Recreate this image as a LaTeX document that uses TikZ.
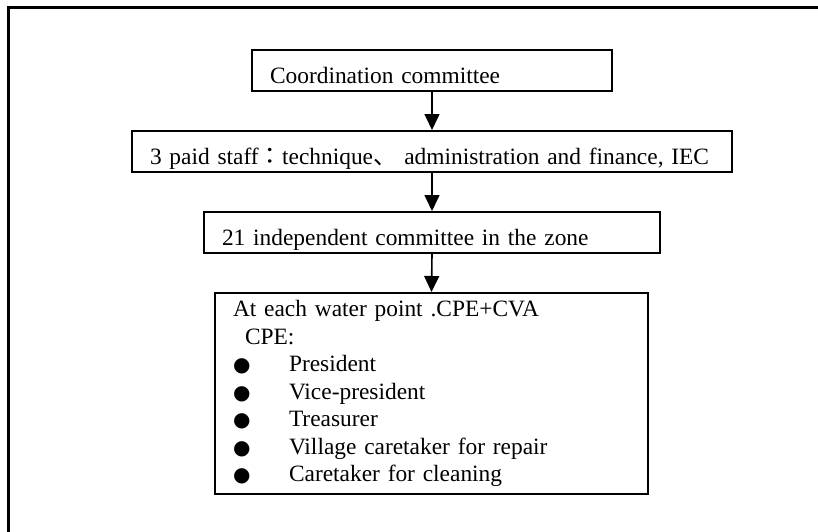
\documentclass[tikz,border=0pt]{standalone}
\usepackage{fontspec}
\setmainfont{Liberation Serif}
\newfontfamily\cjk{Noto Sans CJK JP}
\newfontfamily\bulletfont{DejaVu Sans}
\usetikzlibrary{arrows.meta}
\newcommand\itemdot{\makebox[28pt][l]{\bulletfont\fontsize{10}{13.75}\selectfont ●}}
\begin{document}
\begin{tikzpicture}[x=0.5pt,y=-0.5pt,font=\fontsize{11.7}{13.75}\selectfont,
  panel/.style={draw,line width=1pt,anchor=north west,align=left,inner xsep=9pt,inner ysep=0pt},
  box/.style={panel,minimum height=20.5pt,text height=12.5pt,text depth=0pt},
  link/.style={line width=0.8pt,-{Triangle[length=8pt,width=7.5pt]}}]
  \useasboundingbox (0,0) rectangle (818,531);
  \clip (0,0) rectangle (818,531);
  \draw[line width=1.5pt] (8,7) rectangle (840,560);
  \node[box,text width=162pt] (coord) at (251,49) {Coordination committee};
  \node[box,text width=282pt] (staff) at (131,130) {3 paid staff{\cjk ：}technique{\cjk 、} administration and finance, IEC};
  \node[box,text width=210pt] (zone) at (203,211) {21 independent committee in the zone};
  \node[panel,text width=198.5pt,minimum height=100.5pt] (point) at (214,292)
    {At each water point .CPE+CVA\\
     \hspace*{6pt}CPE:\\
     \itemdot President\\
     \itemdot Vice-president\\
     \itemdot Treasurer\\
     \itemdot Village caretaker for repair\\
     \itemdot Caretaker for cleaning};
  \draw[link] (coord.south) -- (staff.north);
  \draw[link] (staff.south) -- (zone.north);
  \draw[link] (zone.south) -- (point.north);
\end{tikzpicture}
\end{document}
